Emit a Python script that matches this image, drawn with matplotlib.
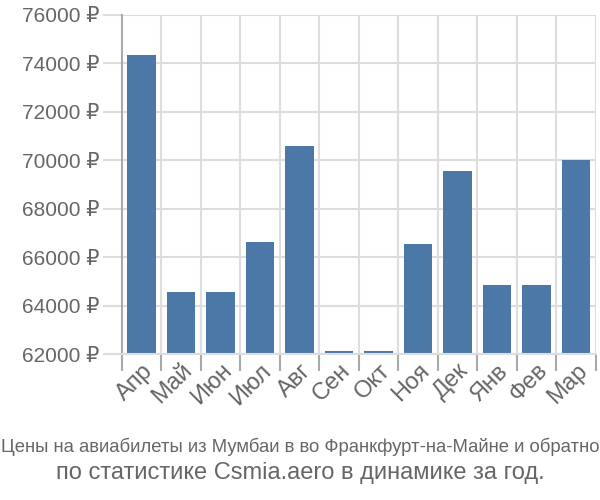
import numpy as np
import matplotlib
matplotlib.use("Agg")
import matplotlib.pyplot as plt

# данные
months = ["Апр", "Май", "Июн", "Июл", "Авг", "Сен", "Окт", "Ноя", "Дек", "Янв", "Фев", "Мар"]
prices = [74330, 64570, 64570, 66630, 70580, 62120, 62120, 66540, 69560, 64850, 64850, 70030]
yticks = [62000, 64000, 66000, 68000, 70000, 72000, 74000, 76000]

plt.rcParams['font.family'] = ['Liberation Sans', 'DejaVu Sans']

fig = plt.figure(figsize=(6, 5), dpi=100)
ax = fig.add_axes([0.203, 0.292, 0.790, 0.678])

x = np.arange(len(months))
ax.bar(x, prices, width=0.72, color="#4c78a8", zorder=2)

ax.set_xlim(-0.5, len(months) - 0.5)
ax.set_ylim(62000, 76000)
ax.set_yticks(yticks)
ax.set_yticklabels([f"{v} ₽" for v in yticks], fontsize=15, color="#666666")

# сетка по границам категорий
edges = np.arange(len(months) + 1) - 0.5
ax.set_xticks(edges)
ax.set_xticklabels([])
ax.set_xticks(x, minor=True)
ax.set_xticklabels(months, minor=True, rotation=45, ha="right", va="top",
                   rotation_mode="anchor", fontsize=17, color="#666666")
ax.tick_params(axis="x", which="minor", length=0, pad=4)
ax.tick_params(axis="x", which="major", length=12, color="#aaaaaa", width=1.5)
ax.tick_params(axis="y", length=14, color="#dddddd", width=1.5, pad=2)
ax.grid(True, which="major", color="#dddddd", linewidth=1.5, zorder=0)

for s in ["top", "right"]:
    ax.spines[s].set_visible(False)
ax.spines["left"].set_color("#aaaaaa")
ax.spines["left"].set_linewidth(1.5)
ax.spines["bottom"].set_color("#dddddd")
ax.spines["bottom"].set_linewidth(1.5)

fig.text(0.5, 0.106, "Цены на авиабилеты из Мумбаи в во Франкфурт-на-Майне и обратно",
         ha="center", va="center", fontsize=13.3, color="#666666",
         family=['Liberation Sans Narrow', 'Liberation Sans', 'DejaVu Sans'])
fig.text(0.5, 0.054, "по статистике Csmia.aero в динамике за год.",
         ha="center", va="center", fontsize=17, color="#666666")

fig.savefig("out.png", dpi=100)
